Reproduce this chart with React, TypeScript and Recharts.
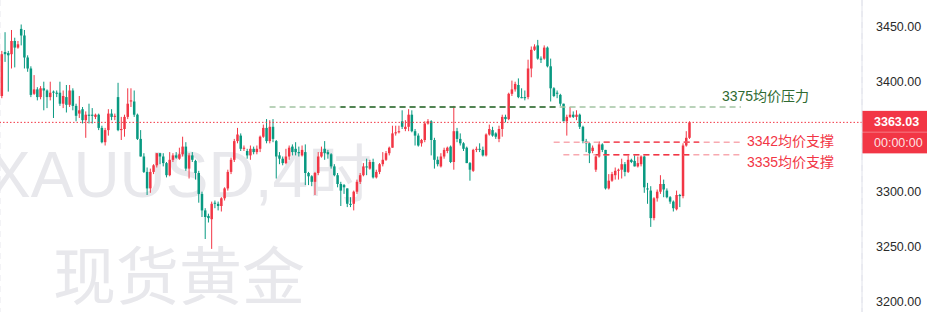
import React from 'react';
import { ComposedChart, Bar, XAxis, YAxis, CartesianGrid, ReferenceLine } from 'recharts';

const RED = '#f23645';
const GREEN = '#089981';
const LABEL_GREEN = '#2e6b2f';
const FONT = "'Liberation Sans', Arial, 'Noto Sans CJK SC', sans-serif";

// OHLC of 4h candles (red = up, green = down)
const opens = [3387,3427,3426,3425,3437,3431,3448,3442,3422,3412,3389,3393,3386,3394,3392,3386,3391,3390,3390,3380,3386,3379,3392,3378,3371,3375,3365,3370,3370,3368,3370,3358,3345,3356,3371,3368,3386,3356,3357,3368,3382,3382,3370,3348,3332,3318,3303,3318,3324,3335,3332,3326,3315,3329,3333,3330,3334,3341,3321,3333,3328,3317,3298,3283,3278,3275,3290,3289,3287,3294,3303,3318,3329,3346,3351,3339,3337,3333,3339,3336,3339,3350,3358,3346,3359,3346,3333,3330,3326,3332,3341,3339,3336,3333,3336,3317,3314,3309,3317,3332,3339,3336,3334,3323,3315,3307,3306,3303,3289,3289,3300,3309,3315,3323,3321,3327,3313,3318,3325,3329,3335,3340,3353,3354,3364,3357,3359,3370,3355,3351,3344,3347,3362,3364,3347,3329,3323,3332,3337,3341,3327,3355,3348,3344,3340,3326,3319,3338,3339,3338,3333,3352,3356,3353,3348,3357,3368,3366,3389,3393,3397,3386,3386,3386,3412,3429,3433,3421,3421,3431,3414,3394,3390,3388,3380,3364,3368,3370,3368,3370,3359,3346,3344,3337,3320,3332,3343,3338,3303,3310,3315,3319,3320,3325,3318,3329,3328,3323,3325,3332,3303,3301,3276,3294,3300,3307,3301,3295,3291,3284,3297,3296,3342,3349];
const highs = [3428,3445,3428,3447,3440,3437,3452,3447,3424,3414,3406,3395,3396,3400,3393,3400,3392,3392,3400,3392,3397,3397,3394,3380,3387,3377,3373,3380,3376,3371,3371,3360,3358,3375,3375,3371,3399,3368,3370,3394,3394,3392,3371,3356,3335,3322,3321,3325,3335,3335,3335,3327,3336,3335,3336,3340,3350,3345,3335,3336,3329,3319,3300,3285,3280,3291,3292,3291,3295,3304,3320,3331,3348,3358,3353,3342,3339,3342,3341,3342,3351,3361,3366,3365,3366,3347,3336,3332,3339,3342,3343,3345,3341,3342,3343,3318,3315,3318,3336,3341,3346,3338,3335,3325,3317,3309,3307,3303,3295,3301,3311,3317,3326,3330,3329,3330,3320,3326,3336,3337,3341,3360,3360,3360,3374,3365,3375,3374,3357,3353,3348,3364,3366,3365,3349,3332,3335,3340,3341,3342,3378,3358,3353,3345,3341,3327,3339,3341,3344,3341,3353,3361,3359,3354,3360,3370,3370,3390,3401,3400,3403,3394,3392,3420,3432,3434,3438,3423,3433,3432,3421,3395,3392,3389,3380,3370,3377,3373,3374,3371,3360,3348,3345,3342,3333,3345,3344,3338,3316,3318,3322,3321,3330,3327,3333,3330,3334,3332,3333,3333,3308,3305,3295,3302,3315,3311,3303,3296,3292,3301,3298,3344,3355,3364];
const lows = [3385,3418,3391,3412,3413,3430,3433,3412,3409,3386,3388,3383,3384,3374,3376,3383,3367,3386,3378,3376,3372,3377,3374,3364,3367,3362,3349,3362,3362,3366,3356,3344,3342,3351,3365,3365,3355,3347,3350,3366,3377,3368,3347,3332,3317,3297,3299,3316,3322,3325,3323,3313,3314,3327,3330,3329,3332,3319,3312,3327,3311,3290,3277,3257,3272,3248,3285,3283,3282,3292,3301,3316,3327,3344,3337,3337,3330,3329,3334,3334,3336,3349,3344,3344,3345,3312,3325,3324,3325,3329,3333,3333,3332,3332,3306,3306,3305,3297,3315,3331,3329,3330,3321,3314,3304,3287,3298,3286,3286,3283,3298,3307,3314,3315,3320,3312,3312,3316,3323,3328,3333,3340,3351,3353,3357,3355,3355,3354,3342,3341,3341,3345,3361,3333,3321,3323,3322,3330,3335,3326,3320,3345,3342,3337,3326,3310,3318,3336,3336,3332,3332,3351,3350,3348,3345,3350,3363,3365,3387,3391,3385,3385,3383,3384,3404,3428,3420,3417,3420,3413,3382,3386,3385,3378,3364,3351,3367,3367,3365,3357,3344,3336,3326,3335,3318,3331,3336,3302,3302,3309,3311,3311,3312,3314,3317,3326,3323,3322,3323,3299,3289,3268,3274,3291,3298,3295,3294,3289,3282,3283,3286,3294,3341,3348];
const closes = [3425,3425,3424,3437,3431,3434,3442,3422,3412,3388,3393,3386,3394,3392,3386,3390,3390,3389,3380,3387,3379,3392,3378,3369,3374,3365,3370,3369,3369,3370,3358,3345,3356,3371,3368,3369,3356,3357,3368,3380,3383,3370,3348,3332,3318,3303,3318,3324,3335,3332,3326,3315,3329,3333,3331,3334,3341,3321,3333,3329,3317,3298,3283,3277,3276,3289,3289,3287,3294,3303,3318,3329,3346,3352,3339,3340,3333,3339,3336,3339,3350,3358,3346,3359,3348,3332,3330,3326,3332,3340,3336,3336,3335,3338,3317,3314,3309,3317,3332,3336,3335,3334,3323,3315,3307,3301,3304,3289,3288,3300,3309,3315,3323,3322,3327,3313,3318,3325,3329,3335,3340,3353,3354,3355,3359,3359,3370,3355,3351,3342,3347,3362,3364,3347,3329,3325,3332,3338,3340,3327,3355,3348,3344,3339,3326,3320,3338,3339,3338,3333,3352,3357,3351,3350,3357,3368,3366,3389,3393,3398,3386,3385,3385,3412,3429,3432,3421,3420,3431,3414,3394,3387,3389,3380,3364,3368,3370,3368,3370,3359,3346,3344,3335,3340,3332,3343,3338,3303,3310,3316,3319,3320,3325,3318,3329,3327,3323,3326,3332,3304,3302,3276,3294,3300,3307,3302,3295,3291,3285,3297,3296,3342,3349,3363.03];

const TOTAL_SLOTS = 267; // candle slots across the plot (empty ones on the right)
const CANDLES_PER_DAY = 6;
const LAST_PRICE = 3363.03;
const Y_TICKS = [3200, 3250, 3300, 3400, 3450];

// horizontal level lines: value, label, start/end slot, stronger mid part
const LEVEL_VALUES = [3377, 3345, 3333.6];
const LEVEL_TEXT = ['3375均价压力', '3342均价支撑', '3335均价支撑'];
const LEVEL_COLORS = ['#2f6a31', RED, RED];
const LEVEL_FADED = ['#a3c4a3', '#f8a9b0', '#f8a9b0'];
const LEVEL_START = [83, 171, 174];
const LEVEL_END = [229, 229, 229];
const LEVEL_DARK_START = [105, 185, 184];
const LEVEL_DARK_END = [172, 216, 213];
const LEVEL_LABEL_DX = [-19, 6, 6];
const LEVEL_LABEL_DY = [-11, -1, 7];
const DASH = [6, 4];

const data = Array.from({ length: TOTAL_SLOTS }, (_, i) =>
  i < opens.length
    ? { i, range: [lows[i], highs[i]], open: opens[i], high: highs[i], low: lows[i], close: closes[i] }
    : { i }
);
const dayStarts = Array.from({ length: Math.ceil(TOTAL_SLOTS / CANDLES_PER_DAY) }, (_, k) => k * CANDLES_PER_DAY + 6).filter(v => v < TOTAL_SLOTS);

const Candle = (props: any) => {
  const { x, y, width, height, payload } = props;
  if (!payload || payload.open == null || x == null) return null;
  const { open, close, high, low } = payload;
  const color = close >= open ? RED : GREEN;
  const top = Math.min(y, y + height);
  const h = Math.abs(height);
  const ratio = high - low > 0 ? h / (high - low) : 0;
  const cx = x + width / 2;
  const bodyTop = top + (high - Math.max(open, close)) * ratio;
  const bodyH = Math.max(Math.abs(close - open) * ratio, 1);
  const bw = 2.5;
  return (
    <g>
      <line x1={cx} x2={cx} y1={top} y2={top + h} stroke={color} strokeWidth={1} />
      <rect x={cx - bw / 2} y={bodyTop} width={bw} height={bodyH} fill={color} />
    </g>
  );
};

const makeLevelShape = (k: number) => (p: any) => {
  const xs = Math.min(p.x1, p.x2);
  const xe = Math.max(p.x1, p.x2);
  const y = p.y1;
  const span = LEVEL_END[k] - LEVEL_START[k];
  const d1 = xs + ((LEVEL_DARK_START[k] - LEVEL_START[k]) / span) * (xe - xs);
  const d2 = xs + ((LEVEL_DARK_END[k] - LEVEL_START[k]) / span) * (xe - xs);
  const period = DASH[0] + DASH[1];
  const phase = (d1 - xs) % period;
  return (
    <g>
      <line x1={xs} x2={xe} y1={y} y2={y} stroke={LEVEL_FADED[k]} strokeWidth={1.4} strokeDasharray={DASH.join(' ')} />
      <line x1={d1} x2={d2} y1={y} y2={y} stroke={LEVEL_COLORS[k]} strokeWidth={1.3} strokeDasharray={DASH.join(' ')} strokeDashoffset={phase} />
    </g>
  );
};

const PriceBox = (props: any) => {
  const vb = props.viewBox || {};
  const x = (vb.x || 0) + (vb.width || 0);
  const y = vb.y || 0;
  return (
    <g>
      <rect x={x} y={y - 11.5} width={65} height={42.5} fill={RED} />
      <line x1={x} x2={x + 65} y1={y + 9.8} y2={y + 9.8} stroke="rgba(255,255,255,0.35)" strokeWidth={1} />
      <text x={x + 12} y={y - 0.8} fill="#fff" fontSize={12.5} fontWeight="bold" fontFamily={FONT} dominantBaseline="central">
        {LAST_PRICE.toFixed(2)}
      </text>
      <text x={x + 12} y={y + 20.2} fill="rgba(255,255,255,0.88)" fontSize={12.5} fontFamily={FONT} dominantBaseline="central">
        00:00:00
      </text>
    </g>
  );
};

const makeLevelLabel = (k: number) => (props: any) => {
  const vb = props.viewBox || {};
  const endX = (vb.x || 0) + Math.abs(vb.width || 0);
  const y = (vb.y || 0) + (vb.height || 0) / 2;
  return (
    <text x={endX + LEVEL_LABEL_DX[k]} y={y + LEVEL_LABEL_DY[k]} fill={LEVEL_COLORS[k]} fontSize={14} fontFamily={FONT} dominantBaseline="central">
      {LEVEL_TEXT[k]}
    </text>
  );
};

const YTick = (props: any) => {
  const { x, y, payload } = props;
  return (
    <text x={x + 12} y={y} fill="#2a2a2a" fontSize={12.5} fontFamily={FONT} dominantBaseline="central" textAnchor="start">
      {Number(payload.value).toFixed(2)}
    </text>
  );
};

export default function App() {
  return (
    <div style={{ position: 'absolute', left: 0, top: 0, width: 927, height: 312, background: '#fff', overflow: 'hidden' }}>
      <svg width={927} height={312} style={{ position: 'absolute', left: 0, top: 0 }}>
        <text x={-12} y={197} fontSize={64} fill="#e8e8ec" fontFamily={FONT}>XAUUSD,4时</text>
        <text x={53} y={299} fontSize={63} fill="#e8e8ec" fontFamily="'Noto Sans CJK SC', sans-serif">现货黄金</text>
      </svg>
      <div style={{ position: 'absolute', left: 0, top: 0 }}>
        <ComposedChart width={927} height={312} data={data} margin={{ top: 0, right: 0, bottom: 0, left: 0 }}>
          <CartesianGrid horizontal={false} vertical={true} stroke="#e8e8ee" strokeDasharray="6 5" />
          <XAxis
            dataKey="i"
            type="category"
            height={0}
            ticks={dayStarts}
            interval={0}
            tick={false}
            tickLine={false}
            axisLine={false}
          />
          <YAxis
            orientation="right"
            width={65}
            type="number"
            domain={[3190.64, 3474.27]}
            allowDataOverflow
            ticks={Y_TICKS}
            interval={0}
            tickLine={false}
            tickSize={0}
            axisLine={{ stroke: '#e0e2ea' }}
            tick={<YTick />}
          />
          <Bar dataKey="range" shape={<Candle />} isAnimationActive={false} />
          {LEVEL_VALUES.map((v, k) => (
            <ReferenceLine
              key={'lv' + k}
              segment={[{ x: LEVEL_START[k], y: v }, { x: LEVEL_END[k], y: v }]}
              shape={makeLevelShape(k)}
              label={makeLevelLabel(k)}
            />
          ))}
          <ReferenceLine y={LAST_PRICE} stroke={RED} strokeDasharray="1.5 2" strokeWidth={1} label={<PriceBox />} />
        </ComposedChart>
      </div>
    </div>
  );
}
